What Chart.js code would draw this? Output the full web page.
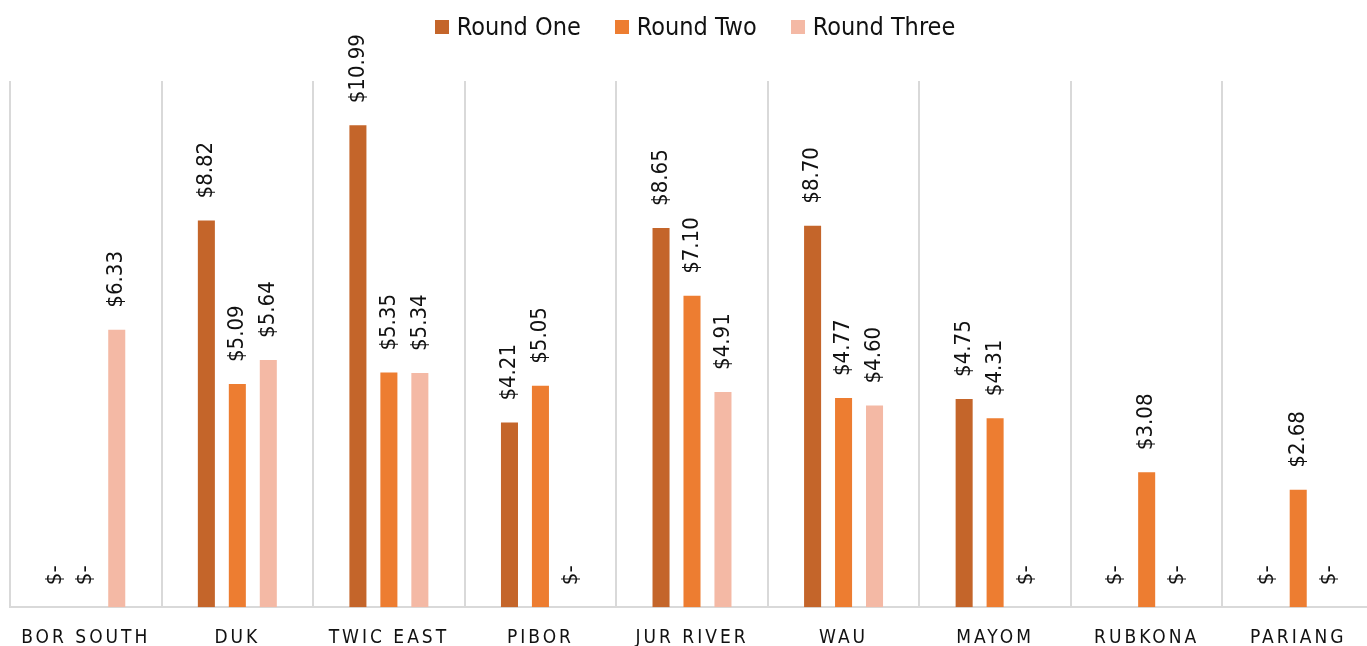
<!DOCTYPE html>
<html>
<head>
<meta charset="utf-8">
<script src="https://cdn.jsdelivr.net/npm/chart.js@4.4.1/dist/chart.umd.min.js"></script>
<style>
  html, body { margin: 0; padding: 0; background: #fff; overflow: hidden; }
  #wrap { position: relative; width: 1380px; height: 668px; }
  #legend { position: absolute; top: 11px; left: 0; width: 1390px; display: flex; justify-content: center;
            font-family: "Liberation Sans Narrow", "DejaVu Sans Condensed", "Roboto", sans-serif; font-size: 25px; color: #111; }
  #legend .item { display: flex; align-items: center; margin: 0 17px; line-height: 32px; }
  #legend .box { width: 14px; height: 14px; margin-right: 8px; }
</style>
</head>
<body>
<div id="wrap">
  <div id="legend"></div>
  <canvas id="bar-chart"></canvas>
</div>
<script>
var counties = ['BOR SOUTH', 'DUK', 'TWIC EAST', 'PIBOR', 'JUR RIVER', 'WAU', 'MAYOM', 'RUBKONA', 'PARIANG'];
var roundOne = [0, 8.82, 10.99, 4.21, 8.65, 8.70, 4.75, 0, 0];
var roundTwo = [0, 5.09, 5.35, 5.05, 7.10, 4.77, 4.31, 3.08, 2.68];
var roundThree = [6.33, 5.64, 5.34, 0, 4.91, 4.60, 0, 0, 0];
var seriesNames = ['Round One', 'Round Two', 'Round Three'];
var colori = ['#C4652A', '#ED7D31', '#F4B9A5'];

var fontFam = '"Liberation Sans Narrow", "DejaVu Sans Condensed", "Roboto", sans-serif';

// labels on top of bars, rotated like the excel ones
var barLabels = {
    id: 'barLabels',
    afterDatasetsDraw: function(chart) {
        var ctx = chart.ctx;
        var base = chart.scales.y.getPixelForValue(0);
        chart.data.datasets.forEach(function(ds, i) {
            var meta = chart.getDatasetMeta(i);
            meta.data.forEach(function(bar, j) {
                var v = ds.data[j];
                var txt = v === 0 ? '$-' : '$' + v.toFixed(2);
                var y = (v === 0 ? base : bar.y) - 22;
                ctx.save();
                ctx.translate(bar.x, y);
                ctx.rotate(-Math.PI / 2);
                ctx.font = '22px ' + fontFam;
                ctx.fillStyle = '#111';
                ctx.textAlign = 'left';
                ctx.textBaseline = 'middle';
                ctx.fillText(txt, 0, 0);
                ctx.restore();
            });
        });
    }
};

// spaced out category labels
var spacedTicks = {
    id: 'spacedTicks',
    afterLayout: function(chart) {
        var sx = chart.scales.x;
        if (sx._spaced) return;
        var orig = sx.drawLabels;
        sx.drawLabels = function(area) {
            chart.ctx.save();
            chart.ctx.letterSpacing = '3px';
            orig.call(this, area);
            chart.ctx.restore();
        };
        sx._spaced = true;
    }
};

// legend in html
var leg = document.getElementById('legend');
seriesNames.forEach(function(n, i) {
    var it = document.createElement('div');
    it.className = 'item';
    it.innerHTML = '<span class="box" style="background:' + colori[i] + '"></span><span>' + n + '</span>';
    leg.appendChild(it);
});

var ctx = document.getElementById('bar-chart');
var chart = new Chart(ctx, {
    type: 'bar',
    data: {
        labels: counties,
        datasets: [
            { label: seriesNames[0], backgroundColor: colori[0], data: roundOne },
            { label: seriesNames[1], backgroundColor: colori[1], data: roundTwo },
            { label: seriesNames[2], backgroundColor: colori[2], data: roundThree }
        ]
    },
    options: {
        responsive: true,
        maintainAspectRatio: false,
        animation: false,
        layout: { padding: { left: 10, right: 6, top: 81, bottom: 0 } },
        datasets: {
            bar: { categoryPercentage: 0.613, barPercentage: 0.55 }
        },
        plugins: {
            legend: { display: false },
            tooltip: { enabled: false }
        },
        scales: {
            x: {
                grid: { color: '#D9D9D9', lineWidth: 2, drawTicks: false },
                border: { color: '#D9D9D9', width: 2 },
                ticks: {
                    color: '#111',
                    autoSkip: false,
                    maxRotation: 0,
                    padding: 19,
                    font: { family: fontFam, size: 19 }
                }
            },
            y: {
                display: false,
                min: 0,
                max: 12
            }
        }
    },
    plugins: [barLabels, spacedTicks]
});
</script>
</body>
</html>
